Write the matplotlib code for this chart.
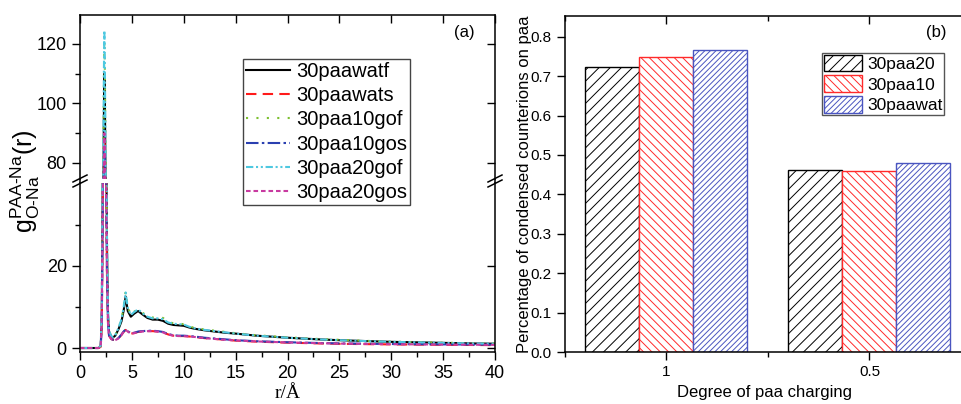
import matplotlib
matplotlib.use("Agg")
import matplotlib.pyplot as plt
from matplotlib.lines import Line2D
from matplotlib.patches import Patch
from matplotlib.ticker import MultipleLocator, FixedLocator

plt.rcParams['font.family'] = ['Liberation Sans', 'DejaVu Sans']
plt.rcParams['mathtext.fontset'] = 'custom'
plt.rcParams['mathtext.rm'] = 'Liberation Sans'
plt.rcParams['mathtext.it'] = 'Liberation Sans'
plt.rcParams['mathtext.default'] = 'regular'
plt.rcParams['hatch.linewidth'] = 0.7

# ---------------- data: panel (a) ----------------
r = [0, 1.8, 2.0, 2.1, 2.2, 2.3, 2.35, 2.4, 2.5, 2.6,
     2.7, 2.8, 3.0, 3.2, 3.4, 3.7, 4.0, 4.2, 4.4, 4.6,
     4.9, 5.2, 5.6, 6.0, 6.5, 7.0, 7.5, 8.0, 8.5, 9.0,
     9.5, 10.0, 10.5, 11.0, 12.0, 13.0, 14.0, 15.0, 17.0, 20.0,
     23.0, 25.0, 28.0, 30.0, 33.0, 35.0, 38.0, 40.0]

g_30paawatf = [0, 0, 0.5, 8, 45, 95, 110, 100, 60, 25,
               8, 4.0, 2.8, 2.6, 3.0, 4.5, 6.5, 9.0, 12.5, 9.0,
               7.6, 8.3, 9.0, 8.2, 7.3, 6.9, 6.9, 6.6, 5.9, 5.6,
               5.5, 5.4, 5.0, 4.7, 4.3, 4.0, 3.7, 3.5, 3.0, 2.5,
               2.1, 1.9, 1.65, 1.5, 1.35, 1.25, 1.1, 1.05]
g_30paawats = [0, 0, 0.3, 6, 35, 75, 88, 80, 45, 18,
               6, 3.0, 2.2, 2.0, 1.9, 2.3, 3.2, 3.9, 4.4, 4.0,
               3.5, 3.6, 3.9, 4.0, 4.1, 4.1, 4.0, 3.8, 3.3, 3.0,
               2.9, 2.9, 2.8, 2.7, 2.4, 2.2, 2.0, 1.8, 1.55, 1.3,
               1.12, 1.02, 0.93, 0.88, 0.82, 0.78, 0.73, 0.7]
g_30paa10gof = [0, 0, 0.5, 9, 50, 105, 121, 110, 65, 28,
                9, 4.2, 2.9, 2.6, 3.1, 4.8, 7.0, 10.0, 13.7, 10.0,
                8.0, 8.8, 9.4, 8.6, 7.8, 7.4, 7.5, 7.3, 6.4, 6.0,
                5.9, 5.8, 5.3, 4.9, 4.5, 4.2, 3.9, 3.6, 3.1, 2.6,
                2.2, 2.0, 1.7, 1.55, 1.4, 1.3, 1.15, 1.1]
g_30paa10gos = [0, 0, 0.3, 6, 34, 73, 86, 78, 44, 18,
                6, 3.0, 2.2, 2.0, 2.0, 2.4, 3.3, 4.0, 4.5, 4.1,
                3.6, 3.7, 4.0, 4.1, 4.2, 4.2, 4.1, 3.9, 3.4, 3.1,
                3.0, 3.0, 2.9, 2.8, 2.5, 2.3, 2.1, 1.9, 1.65, 1.4,
                1.22, 1.12, 1.02, 0.97, 0.92, 0.88, 0.84, 0.82]
g_30paa20gof = [0, 0, 0.6, 10, 55, 110, 124.5, 112, 66, 28,
                9, 4.2, 2.9, 2.6, 3.1, 4.8, 7.0, 9.8, 13.5, 9.8,
                8.0, 8.7, 9.4, 8.5, 7.6, 7.2, 7.2, 7.0, 6.2, 5.9,
                5.8, 5.7, 5.2, 4.8, 4.4, 4.1, 3.8, 3.5, 3.0, 2.5,
                2.1, 1.9, 1.65, 1.5, 1.35, 1.25, 1.1, 1.05]
g_30paa20gos = [0, 0, 0.3, 7, 38, 78, 90, 82, 46, 19,
                6, 3.0, 2.2, 2.0, 1.9, 2.3, 3.2, 3.9, 4.4, 4.0,
                3.5, 3.6, 3.9, 4.0, 4.1, 4.1, 4.0, 3.8, 3.3, 3.0,
                2.9, 2.9, 2.8, 2.7, 2.4, 2.2, 2.0, 1.85, 1.6, 1.35,
                1.17, 1.07, 0.98, 0.93, 0.87, 0.83, 0.79, 0.76]

series_names = ['30paawatf', '30paawats', '30paa10gof', '30paa10gos',
                '30paa20gof', '30paa20gos']
series_vals = [g_30paawatf, g_30paawats, g_30paa10gof, g_30paa10gos,
               g_30paa20gof, g_30paa20gos]

# ---------------- data: panel (b) ----------------
charging = ['1', '0.5']
cond_30paa20 = [0.724, 0.462]
cond_30paa10 = [0.748, 0.458]
cond_30paawat = [0.765, 0.479]

# ---------------- styles ----------------
line_styles = [
    dict(color='black', linestyle='-'),
    dict(color='#ff1a1a', linestyle=(0, (5, 3))),
    dict(color='#7cc030', linestyle=(0, (1, 4))),
    dict(color='#2a3fb0', linestyle=(0, (6, 1.6, 1.2, 1.6))),
    dict(color='#4ec8e0', linestyle=(0, (3.5, 1.3, 1, 1.3, 1, 1.3))),
    dict(color='#c83aa0', linestyle=(0, (2.2, 1.4))),
]

W, H = 962, 404
fig = plt.figure(figsize=(W / 100, H / 100), dpi=100)


def fx(px):
    return px / W


def fy(py):
    return (H - py) / H


xl, xr = 80, 495
ax_top = fig.add_axes([fx(xl), fy(179), fx(xr) - fx(xl), fy(15) - fy(179)])
ax_bot = fig.add_axes([fx(xl), fy(352), fx(xr) - fx(xl), fy(183) - fy(352)])

handles = []
for name, vals, st in zip(series_names, series_vals, line_styles):
    for ax in (ax_top, ax_bot):
        ln, = ax.plot(r, vals, lw=1.5, label=name, **st)
    handles.append(ln)

ax_bot.set_xlim(0, 40)
ax_top.set_xlim(0, 40)
ax_bot.set_ylim(-0.97, 40.1)
ax_top.set_ylim(74.6, 129.75)

for ax in (ax_top, ax_bot):
    for s in ax.spines.values():
        s.set_linewidth(1.1)
    ax.xaxis.set_major_locator(MultipleLocator(5))
    ax.xaxis.set_minor_locator(MultipleLocator(2.5))
    ax.tick_params(which='both', labelsize=13, width=1.0)
    ax.tick_params(which='major', length=6)
    ax.tick_params(which='minor', length=3.5)

ax_top.spines['bottom'].set_visible(False)
ax_bot.spines['top'].set_visible(False)

ax_top.yaxis.set_major_locator(FixedLocator([80, 100, 120]))
ax_top.yaxis.set_minor_locator(FixedLocator([90, 110]))
ax_bot.yaxis.set_major_locator(FixedLocator([0, 20]))
ax_bot.yaxis.set_minor_locator(FixedLocator([10, 30]))

ax_top.tick_params(axis='x', which='major', bottom=False, labelbottom=False,
                   top=True, direction='in')
ax_top.tick_params(axis='x', which='minor', bottom=False, top=False)
ax_top.tick_params(axis='y', which='both', left=True, direction='out')
ax_bot.tick_params(axis='x', which='both', top=False, bottom=True, direction='out')
ax_bot.tick_params(axis='y', which='both', left=True, direction='out')

# right spine ticks pointing inward (major only)
for ax in (ax_top, ax_bot):
    ax.tick_params(axis='y', which='major', right=True, labelright=False)
    ax.tick_params(axis='y', which='minor', right=False)
    for t in ax.yaxis.get_major_ticks():
        t.tick2line.set_marker(0)

# continuous spine through break + break marks
for xp in (xl, xr):
    fig.add_artist(Line2D([fx(xp), fx(xp)], [fy(179), fy(183)],
                          color='black', lw=1.1, transform=fig.transFigure))
    for dy in (0, 5):
        fig.add_artist(Line2D([fx(xp - 7), fx(xp + 7)],
                              [fy(182 + dy), fy(175 + dy)],
                              color='black', lw=1.1,
                              transform=fig.transFigure))

fig.text(fx(288), fy(393), 'r/Å', ha='center', va='center', fontsize=14,
         family=['Liberation Serif', 'DejaVu Serif'])
fig.text(fx(25), fy(181), r'$g^{PAA\text{-}Na}_{O\text{-}Na}(r)$',
         rotation=90, ha='center', va='center', fontsize=18)
fig.text(fx(464), fy(32), '(a)', ha='center', va='center', fontsize=12)

leg1 = fig.legend(handles=handles, loc='upper left',
                  bbox_to_anchor=(fx(243), fy(59)),
                  fontsize=14.5, frameon=True, fancybox=False,
                  borderaxespad=0, borderpad=0.15, handlelength=2.2,
                  handletextpad=0.3, labelspacing=0.26, framealpha=1)
leg1.get_frame().set_edgecolor('#444444')
leg1.get_frame().set_linewidth(1.0)

# ---------------- panel (b) ----------------
bx0, bx1, by0, by1 = 565, 962, 16, 352
ax2 = fig.add_axes([fx(bx0), fy(by1), fx(bx1) - fx(bx0), fy(by0) - fy(by1)])
pos = [1, 2]
w = 0.266
bar_sets = [
    (cond_30paa20, '30paa20', 'black', '///', -w),
    (cond_30paa10, '30paa10', '#ff2a2a', '\\\\\\\\', 0.0),
    (cond_30paawat, '30paawat', '#4a55c0', '//////', w),
]
bhandles = []
for vals, lab, col, hatch, off in bar_sets:
    ax2.bar([p + off for p in pos], vals, width=w, facecolor='white',
            edgecolor=col, hatch=hatch, linewidth=1.0, label=lab)
    bhandles.append(Patch(facecolor='white', edgecolor=col, hatch=hatch,
                          linewidth=1.0, label=lab))

ax2.set_xlim(0.5, 2.456)
ax2.set_ylim(0, 0.8525)
ax2.set_xticks(pos)
ax2.set_xticklabels(charging)
ax2.xaxis.set_minor_locator(MultipleLocator(0.5))
ax2.yaxis.set_major_locator(MultipleLocator(0.1))
ax2.yaxis.set_major_formatter(matplotlib.ticker.FormatStrFormatter('%.1f'))
for s in ax2.spines.values():
    s.set_linewidth(1.1)
ax2.tick_params(which='both', labelsize=11, width=1.0)
ax2.tick_params(which='major', length=6)
ax2.tick_params(which='minor', length=3.5)
ax2.tick_params(axis='x', which='both', top=True, direction='out')
ax2.tick_params(axis='y', which='both', direction='out')
for t in ax2.xaxis.get_major_ticks() + ax2.xaxis.get_minor_ticks():
    t.tick2line.set_marker(3)

fig.text(fx(524), fy(184), 'Percentage of condensed counterions on paa',
         rotation=90, ha='center', va='center', fontsize=12)
fig.text(fx(765), fy(393), 'Degree of paa charging', ha='center',
         va='center', fontsize=12)
fig.text(fx(936), fy(32), '(b)', ha='center', va='center', fontsize=12)

leg2 = fig.legend(handles=bhandles, loc='upper left',
                  bbox_to_anchor=(fx(822), fy(53)),
                  fontsize=12.5, frameon=True, fancybox=False,
                  borderaxespad=0, borderpad=0.1, handlelength=2.2,
                  handleheight=1.1, handletextpad=0.3, labelspacing=0.2,
                  framealpha=1)
leg2.get_frame().set_edgecolor('#555555')
leg2.get_frame().set_linewidth(1.0)

fig.savefig('out.png', dpi=100)
